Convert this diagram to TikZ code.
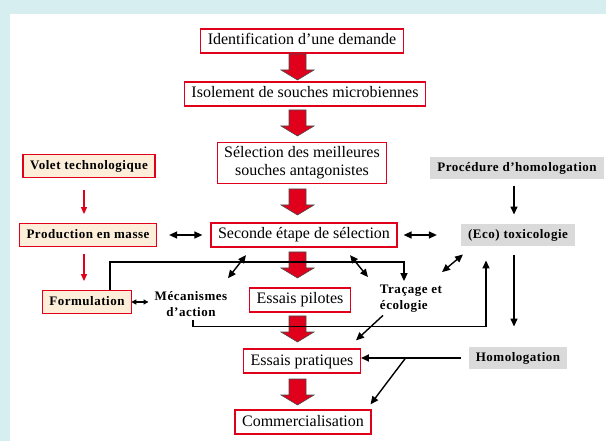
\documentclass[tikz,border=0pt]{standalone}
\usepackage{fontspec}
\setmainfont{Liberation Serif}
\usetikzlibrary{positioning,calc,arrows.meta}

\definecolor{boxred}{RGB}{224,0,27}
\definecolor{beige}{RGB}{252,238,216}
\definecolor{procgray}{RGB}{218,218,218}
\definecolor{bgcyan}{RGB}{214,238,240}

\tikzset{
  etape/.style={draw=boxred, line width=1.3pt, fill=white, inner xsep=7pt, inner ysep=4pt, text height=12pt, text depth=4pt, font=\fontsize{16}{18}\selectfont, align=center},
  volet/.style={draw=boxred, line width=1.3pt, fill=beige, inner xsep=7pt, inner ysep=5pt, text height=9.5pt, text depth=3pt, font=\fontsize{13}{16}\selectfont\bfseries\addfontfeatures{LetterSpace=4}},
  homol/.style={fill=procgray, inner xsep=7pt, inner ysep=5pt, text height=9.5pt, text depth=3pt, font=\fontsize{13}{16}\selectfont\bfseries\addfontfeatures{LetterSpace=4}},
  lbl/.style={font=\fontsize{13}{16}\selectfont\bfseries\addfontfeatures{LetterSpace=4}, inner sep=1pt},
  fl/.style={-{Triangle[length=8pt,width=7pt]}, line width=1.4pt},
  dfl/.style={{Triangle[length=8pt,width=7pt]}-{Triangle[length=8pt,width=7pt]}, line width=1.4pt},
  rfl/.style={-{Triangle[length=7pt,width=6pt]}, boxred, line width=1.1pt},
  bigfl/.style={fill=boxred, draw=black!70, line width=0.6pt}
}

\begin{document}
\begin{tikzpicture}[x=1pt,y=-1pt]
\fill[bgcyan] (0,0) rectangle (606,441);
\fill[white] (10,14) rectangle (606,441);
\useasboundingbox (0,0) rectangle (606,441);

% colonne centrale
\node[etape] (ident) at (302,41) {Identification d’une demande};
\node[etape] (isol) at (305,94) {Isolement de souches microbiennes};
\node[etape, text height=, text depth=] (selec) at (302,163) {Sélection des meilleures\\souches antagonistes};
\node[etape] (seconde) at (304,235) {Seconde étape de sélection};
\node[etape] (pilot) at (300,300) {Essais pilotes};
\node[etape] (prat) at (302,361) {Essais pratiques};
\node[etape] (comm) at (303,422) {Commercialisation};

% volet technologique
\node[volet] (volet) at (89,166) {Volet technologique};
\node[volet] (prod) at (88,235) {Production en masse};
\node[volet] (form) at (87,302) {Formulation};

% homologation
\node[homol] (proc) at (517,168) {Procédure d’homologation};
\node[homol] (eco) at (518,235) {(Eco) toxicologie};
\node[homol] (homo) at (518,358) {Homologation};

\node[lbl, align=center] (meca) at (191,304) {Mécanismes\\d’action};
\node[lbl, align=left] (trac) at (411,299) {Traçage et\\écologie};

% grosses fleches
\foreach \y in {54,110,189,252,316,379}
  \draw[bigfl] (289,\y) -- ++(17,0) -- ++(0,16) -- ++(8,0) -- ++(-16.5,10) -- ++(-16.5,-10) -- ++(8,0) -- cycle;

\draw[rfl, shorten <=12pt, shorten >=9pt] ([xshift=-5pt]volet.south) -- ([xshift=-4pt]prod.north);
\draw[rfl, shorten <=7pt, shorten >=9pt] ([xshift=-4pt]prod.south) -- ([xshift=-3pt]form.north);

\draw[dfl, shorten <=12pt, shorten >=8pt] (prod.east) -- (seconde.west);
\draw[dfl, shorten <=6pt, shorten >=24pt] (seconde.east) -- (eco.west);
\draw[{Triangle[length=5pt,width=5pt]}-{Triangle[length=5pt,width=5pt]}, line width=1.1pt, shorten <=-1pt, shorten >=5pt] (form.east) -- (meca.west |- form.east);

\draw[dfl] ($(seconde.south)+(-58,7.5)$) -- ($(meca.north)+(37,-12)$);
\draw[dfl] ($(seconde.south)+(46,7.5)$) -- ($(trac.north)+(-43,-7)$);
\draw[dfl] ($(trac.north)+(31,-12)$) -- ($(eco.south)+(-55,8)$);
\draw[fl] ($(trac.south)+(-28,1.5)$) -- ($(prat.north)+(54,-8)$);

\draw[fl, shorten >=3pt] ([xshift=23pt]form.north) -- ++(0,-28) -| ([xshift=-7pt]trac.north);
\draw[fl, shorten >=14pt] ([xshift=2pt,yshift=-2pt]meca.south) -- ++(0,7) -| ([xshift=-32pt]eco.south);

\draw[fl, shorten <=7pt, shorten >=9pt] ([xshift=-3pt]proc.south) -- ([xshift=-4pt]eco.north);
\draw[fl, shorten <=9pt, shorten >=20pt] ([xshift=-4pt]eco.south) -- ([xshift=-4pt]homo.north);
\draw[fl, line width=2pt, shorten <=8pt] (homo.west) -- (homo.west -| prat.east);
\coordinate (br) at ($(homo.west)+(-63,0)$);
\draw[fl] (br) -- ($(comm.north east)+(-1,-5)$);
\end{tikzpicture}
\end{document}
